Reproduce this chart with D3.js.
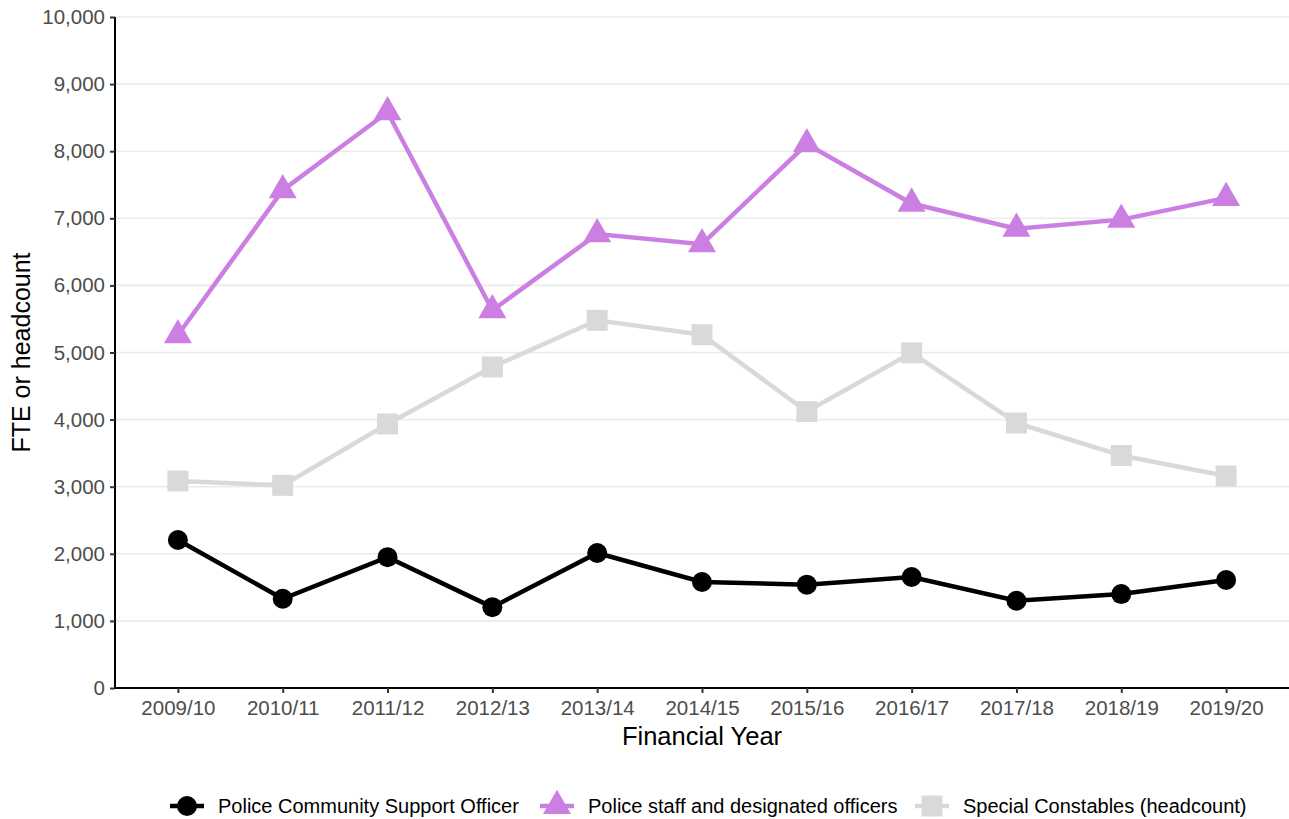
<!DOCTYPE html>
<html>
<head>
<meta charset="utf-8">
<script src="https://cdn.jsdelivr.net/npm/d3@7"></script>
<style>
  body { margin: 0; background: #fff; }
  text { font-family: "Liberation Sans", Arial, sans-serif; }
</style>
</head>
<body>
<div id="chart-area"></div>
<script>
// data
const years = ["2009/10", "2010/11", "2011/12", "2012/13", "2013/14", "2014/15", "2015/16", "2016/17", "2017/18", "2018/19", "2019/20"]
const pcso = [2205, 1330, 1950, 1205, 2012, 1580, 1540, 1655, 1300, 1400, 1610]
const staff = [5260, 7420, 8580, 5630, 6765, 6615, 8105, 7220, 6845, 6980, 7305]
const specials = [3085, 3020, 3935, 4785, 5480, 5265, 4120, 4995, 3950, 3465, 3160]
const yTicks = [0, 1000, 2000, 3000, 4000, 5000, 6000, 7000, 8000, 9000, 10000]

const series = [
  { name: "Police Community Support Officer", values: pcso, color: "#000000", shape: d3.symbolCircle, size: 314 },
  { name: "Police staff and designated officers", values: staff, color: "#cc7fe3", shape: d3.symbolTriangle, size: 340 },
  { name: "Special Constables (headcount)", values: specials, color: "#d9d9d9", shape: d3.symbolSquare, size: 440 }
]

const W = 1289, H = 819
const plotL = 115, plotR = 1289, plotT = 17, plotB = 688

const svg = d3.select("#chart-area").append("svg").attr("width", W).attr("height", H)

const x = d3.scalePoint().domain(years).range([plotL, plotR]).padding(0.6)
const y = d3.scaleLinear().domain([0, 10000]).range([plotB, plotT])

// gridlines
svg.append("g").selectAll("line").data(yTicks).enter()
  .append("line")
  .attr("x1", plotL).attr("x2", plotR)
  .attr("y1", d => y(d)).attr("y2", d => y(d))
  .attr("stroke", "#ebebeb").attr("stroke-width", 1.6)

// axes
const yAxis = svg.append("g").attr("transform", `translate(${plotL},0)`)
  .call(d3.axisLeft(y).tickValues(yTicks).tickFormat(d3.format(",")).tickSize(5).tickPadding(5))
const xAxis = svg.append("g").attr("transform", `translate(0,${plotB})`)
  .call(d3.axisBottom(x).tickSize(5).tickPadding(7))

;[yAxis, xAxis].forEach(a => {
  a.select(".domain").attr("stroke", "#000").attr("stroke-width", 2)
  a.selectAll(".tick line").attr("stroke", "#333").attr("stroke-width", 2)
  a.selectAll(".tick text").attr("fill", "#4d4d4d").style("font-size", "20.5px")
})
xAxis.select(".domain").attr("d", `M${plotL},0H${plotR}`)
yAxis.select(".domain").attr("d", `M0,${plotT}V${plotB}`)

// axis titles
svg.append("text").attr("x", (plotL + plotR) / 2).attr("y", 745)
  .attr("text-anchor", "middle").style("font-size", "25.5px").text("Financial Year")
svg.append("text").attr("transform", `translate(30,${(plotT + plotB) / 2}) rotate(-90)`)
  .attr("text-anchor", "middle").style("font-size", "25px").text("FTE or headcount")

// lines and points
const line = d3.line().x((d, i) => x(years[i])).y(d => y(d))

series.forEach(s => {
  svg.append("path").datum(s.values)
    .attr("d", line).attr("fill", "none")
    .attr("stroke", s.color).attr("stroke-width", 4.5)
  svg.append("g").selectAll("path").data(s.values).enter()
    .append("path")
    .attr("d", d3.symbol().type(s.shape).size(s.size))
    .attr("transform", (d, i) => `translate(${x(years[i])},${y(d)})`)
    .attr("fill", s.color)
})

// legend
const legendX = [170, 540, 915]
const legend = svg.append("g").selectAll("g").data(series).enter()
  .append("g").attr("transform", (d, i) => `translate(${legendX[i]},806)`)
legend.append("line").attr("x1", 0).attr("x2", 34)
  .attr("stroke", d => d.color).attr("stroke-width", 4.5)
legend.append("path")
  .attr("d", d => d3.symbol().type(d.shape).size(d.size)())
  .attr("transform", "translate(17,0)")
  .attr("fill", d => d.color)
legend.append("text").attr("x", 48).attr("dy", "0.35em")
  .style("font-size", "20px").attr("fill", "#000").text(d => d.name)
</script>
</body>
</html>
